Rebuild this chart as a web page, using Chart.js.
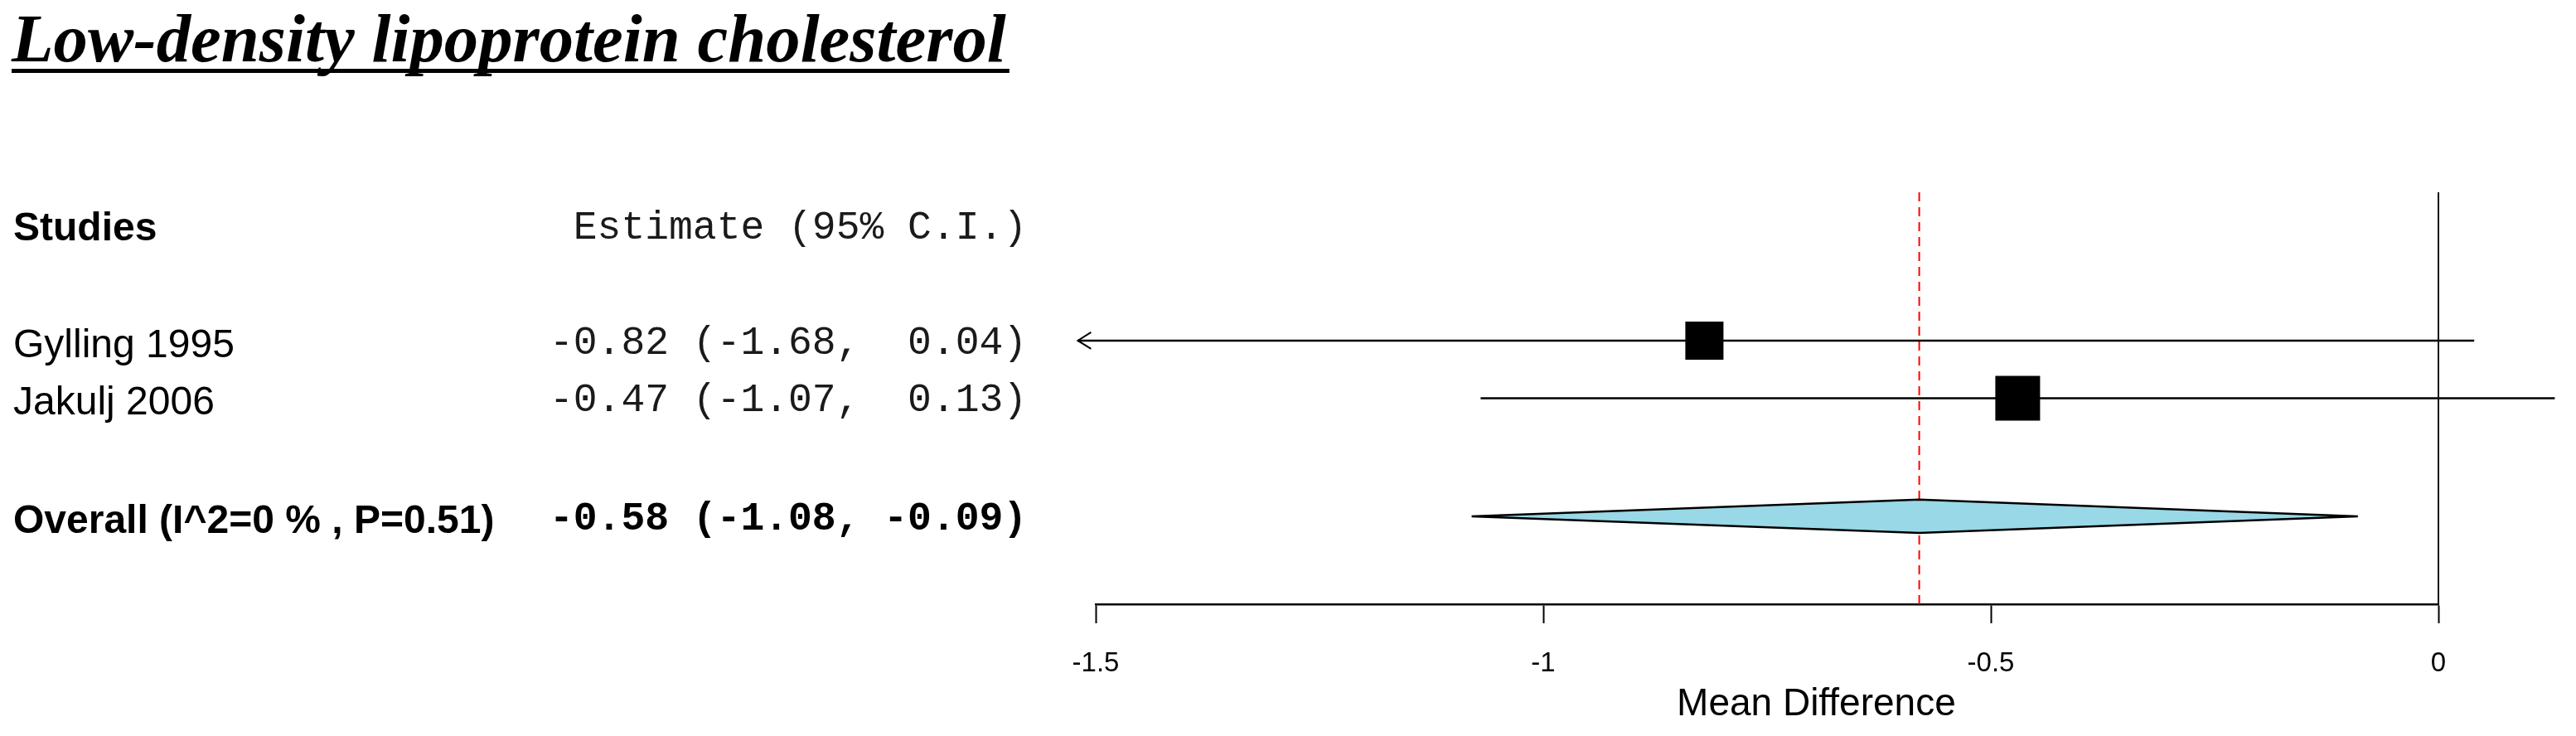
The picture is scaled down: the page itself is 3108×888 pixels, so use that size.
<!DOCTYPE html>
<html>
<head>
<meta charset="utf-8">
<script src="https://cdn.jsdelivr.net/npm/chart.js@4.4.1/dist/chart.umd.min.js"></script>
<style>
  html, body { margin: 0; padding: 0; background: #ffffff; }
  #wrap { width: 3108px; height: 888px; position: relative; }
</style>
</head>
<body>
<div id="wrap"><canvas id="c" width="3108" height="888"></canvas></div>
<script>
// ---------------- DATA ----------------
const chartTitle = 'Low-density lipoprotein cholesterol';
const headerLabels = ['Studies', 'Estimate (95% C.I.)'];
const studies = ['Gylling 1995', 'Jakulj 2006'];
const estimates = [-0.82, -0.47];
const ciLower = [-1.68, -1.07];
const ciUpper = [0.04, 0.13];
const overallLabel = ['Overall'];
const overallValues = [-0.58, -1.08, -0.09];   // estimate, lower, upper
const heterogeneity = [0, 0.51];                // I^2 (%), P
const xTicks = [-1.5, -1, -0.5, 0];
const axisTitle = 'Mean Difference';

// ---------------- LAYOUT / STYLE ----------------
const Y_RANGE = [0.424, 7.575];
const ROW_HEADER = 7;
const ROW_STUDIES = [5, 4];
const ROW_OVERALL = 1.95;
const PLOT_XLIM = [-1.52, 0.13];     // R plotting window (lines are cut there)
const BOX_SIDE_PX = [46, 54];
const DIAMOND_HALF = 0.29;
const COL_LABEL_X = 16;
const COL_EST_X = 663;
const SANS = '"Liberation Sans", Arial, sans-serif';
const MONO = '"Liberation Mono", "Courier New", monospace';
const SERIF = '"Liberation Serif", "Times New Roman", serif';

const fmt = v => {
  let s = v.toFixed(2);
  while (s.length < 5) s = ' ' + s;
  return s;
};
const ciText = (e, l, u) => `${fmt(e)} (${fmt(l)}, ${fmt(u)})`;

// ---------------- DATASETS ----------------
const datasets = [];

// CI lines (cut at the plotting window)
studies.forEach((name, i) => {
  datasets.push({
    type: 'line',
    label: name + ' CI',
    data: [
      { x: Math.max(ciLower[i], PLOT_XLIM[0]), y: ROW_STUDIES[i] },
      { x: Math.min(ciUpper[i], PLOT_XLIM[1]), y: ROW_STUDIES[i] }
    ],
    borderColor: '#000000',
    borderWidth: 2.5,
    pointRadius: 0,
    fill: false,
    clip: false,
    order: 6
  });
});

// vertical line of no effect
datasets.push({
  type: 'line',
  label: 'zero',
  data: [{ x: 0, y: Y_RANGE[0] }, { x: 0, y: Y_RANGE[1] }],
  borderColor: '#111111',
  borderWidth: 2,
  pointRadius: 0,
  clip: false,
  order: 5
});

// red dashed line at the overall estimate
datasets.push({
  type: 'line',
  label: 'overall line',
  data: [{ x: overallValues[0], y: Y_RANGE[0] }, { x: overallValues[0], y: Y_RANGE[1] }],
  borderColor: '#ff0000',
  borderWidth: 2,
  borderDash: [11, 7],
  pointRadius: 0,
  clip: false,
  order: 4
});

// overall diamond
datasets.push({
  type: 'line',
  label: 'overall diamond',
  data: [
    { x: overallValues[1], y: ROW_OVERALL },
    { x: overallValues[0], y: ROW_OVERALL + DIAMOND_HALF },
    { x: overallValues[2], y: ROW_OVERALL },
    { x: overallValues[0], y: ROW_OVERALL - DIAMOND_HALF },
    { x: overallValues[1], y: ROW_OVERALL }
  ],
  borderColor: '#000000',
  borderWidth: 2.5,
  backgroundColor: '#99d8e6',
  fill: 'shape',
  tension: 0,
  pointRadius: 0,
  clip: false,
  order: 2
});

// study boxes
datasets.push({
  type: 'scatter',
  label: 'estimates',
  data: estimates.map((e, i) => ({ x: e, y: ROW_STUDIES[i] })),
  pointStyle: 'rect',
  pointRadius: BOX_SIDE_PX.map(s => s / 2 / Math.SQRT1_2),
  pointBackgroundColor: '#000000',
  pointBorderColor: '#000000',
  pointBorderWidth: 0,
  clip: false,
  order: 1
});

// ---------------- TEXT / DECORATION PLUGIN ----------------
const forestText = {
  id: 'forestText',
  afterDraw(chart) {
    const { ctx } = chart;
    const x = chart.scales.x, y = chart.scales.y;
    ctx.save();
    ctx.fillStyle = '#000000';
    ctx.textAlign = 'left';
    ctx.textBaseline = 'alphabetic';

    // title (bold italic, underlined)
    let size = 72;
    ctx.font = `italic bold ${size}px ${SERIF}`;
    let w = ctx.measureText(chartTitle).width;
    size = Math.max(60, Math.min(84, size * 1200 / w));
    ctx.font = `italic bold ${size}px ${SERIF}`;
    w = ctx.measureText(chartTitle).width;
    ctx.fillText(chartTitle, 14, 74);
    ctx.fillRect(14, 83, w + 4, 5);

    // header
    const hy = y.getPixelForValue(ROW_HEADER);
    ctx.font = `bold 48px ${SANS}`;
    ctx.fillText(headerLabels[0], COL_LABEL_X, hy + 18);
    ctx.fillStyle = '#1a1a1a';
    ctx.font = `48px ${MONO}`;
    ctx.fillText(' ' + headerLabels[1], COL_EST_X, hy + 16);

    // studies
    studies.forEach((name, i) => {
      const ry = y.getPixelForValue(ROW_STUDIES[i]);
      ctx.fillStyle = '#000000';
      ctx.font = `48px ${SANS}`;
      ctx.fillText(name, COL_LABEL_X, ry + 20);
      ctx.fillStyle = '#1a1a1a';
      ctx.font = `48px ${MONO}`;
      ctx.fillText(ciText(estimates[i], ciLower[i], ciUpper[i]), COL_EST_X, ry + 16);
    });

    // overall
    ctx.fillStyle = '#000000';
    const oy = y.getPixelForValue(ROW_OVERALL);
    ctx.font = `bold 48px ${SANS}`;
    ctx.fillText(`${overallLabel[0]} (I^2=${heterogeneity[0]} % , P=${heterogeneity[1].toFixed(2)})`, COL_LABEL_X, oy + 20);
    ctx.font = `bold 48px ${MONO}`;
    ctx.fillText(ciText(overallValues[0], overallValues[1], overallValues[2]), COL_EST_X, oy + 16);

    // arrows for truncated CIs
    ctx.strokeStyle = '#000000';
    ctx.lineWidth = 2;
    studies.forEach((name, i) => {
      const ry = y.getPixelForValue(ROW_STUDIES[i]);
      if (ciLower[i] < PLOT_XLIM[0]) {
        const ax = x.getPixelForValue(PLOT_XLIM[0]);
        ctx.beginPath();
        ctx.moveTo(ax + 16, ry - 10);
        ctx.lineTo(ax, ry);
        ctx.lineTo(ax + 16, ry + 10);
        ctx.stroke();
      }
      if (ciUpper[i] > PLOT_XLIM[1]) {
        const ax = x.getPixelForValue(PLOT_XLIM[1]);
        ctx.beginPath();
        ctx.moveTo(ax - 16, ry - 10);
        ctx.lineTo(ax, ry);
        ctx.lineTo(ax - 16, ry + 10);
        ctx.stroke();
      }
    });

    // x-axis title, centred on the plotting window
    ctx.font = `46px ${SANS}`;
    ctx.textAlign = 'center';
    const cx = (x.getPixelForValue(PLOT_XLIM[0]) + x.getPixelForValue(PLOT_XLIM[1])) / 2;
    ctx.fillText(axisTitle, cx, 863);
    ctx.restore();
  }
};

// ---------------- CHART ----------------
Chart.defaults.font.family = SANS;
Chart.defaults.color = '#000000';

new Chart(document.getElementById('c'), {
  type: 'scatter',
  data: { datasets },
  options: {
    responsive: false,
    animation: false,
    devicePixelRatio: 1,
    layout: { padding: { left: 1322, right: 166, top: 232, bottom: 0 } },
    plugins: { legend: { display: false }, tooltip: { enabled: false }, title: { display: false } },
    scales: {
      x: {
        type: 'linear',
        min: xTicks[0],
        max: xTicks[xTicks.length - 1],
        afterBuildTicks: s => { s.ticks = xTicks.map(v => ({ value: v })); },
        afterFit: s => { s.height = 159; },
        grid: {
          display: true,
          drawOnChartArea: false,
          drawTicks: true,
          tickLength: 23,
          tickWidth: 2,
          tickColor: '#000000'
        },
        border: { display: true, color: '#000000', width: 2.5 },
        ticks: {
          font: { size: 33, family: SANS },
          color: '#000000',
          padding: 29,
          maxRotation: 0,
          autoSkip: false,
          callback: v => String(v)
        }
      },
      y: {
        type: 'linear',
        display: false,
        min: Y_RANGE[0],
        max: Y_RANGE[1]
      }
    }
  },
  plugins: [forestText]
});
</script>
</body>
</html>
